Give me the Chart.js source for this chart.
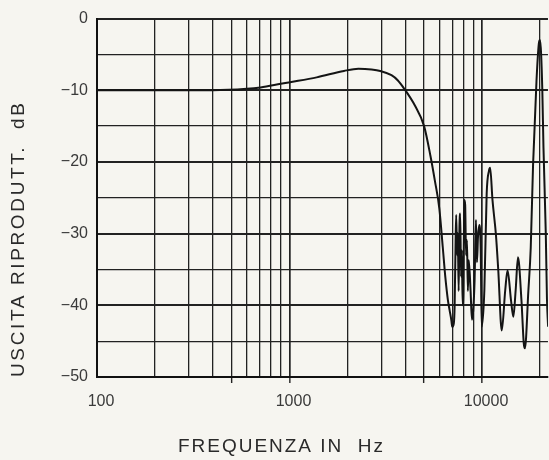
<!DOCTYPE html>
<html><head><meta charset="utf-8">
<script src="https://cdn.jsdelivr.net/npm/chart.js@4.4.1/dist/chart.umd.min.js"></script>
<style>
html,body{margin:0;padding:0;background:#f6f5f0;overflow:hidden}
#wrap{position:relative;width:549px;height:460px}
</style></head>
<body><div id="wrap"><canvas id="c" width="549" height="460"></canvas></div>
<script>
// ---- data ----
const frequenciesHz = [100,200,300,400,600,707,900,990,1384,1917,2280,2667,2960,3384,3645,3970,4472,5000,5390,5687,6000,6252,6448,6650,6787,6928,7000,7135,7203,7290,7342,7420,7483,7560,7627,7701,7780,7849,7930,8000,8086,8173,8260,8350,8440,8531,8716,8860,9000,9147,9297,9410,9525,9682,9843,9960,10280,10570,10867,11019,11329,11810,12142,12658,13195,13566,14142,14540,14948,15369,16021,16472,16702,17400,17900,18404,19185,19724,20000,20278,20562,20849,21434,21733,22036];
const levelsDb =     [-10,-10,-10,-10,-9.8,-9.6,-9.1,-8.9,-8.2,-7.3,-7.0,-7.1,-7.3,-7.9,-8.6,-9.9,-12.1,-15.0,-19.1,-22.6,-26.5,-31.9,-36.1,-39.3,-40.7,-42.1,-43.0,-42.5,-40.2,-31.0,-27.4,-33.0,-29.9,-38.0,-29.5,-27.2,-36.0,-32.3,-40.0,-38.5,-25.3,-26.0,-33.0,-30.9,-38.0,-33.7,-37.9,-42.0,-40.7,-36.5,-28.1,-34.0,-30.5,-28.8,-32.3,-43.0,-37.9,-24.4,-21.2,-20.8,-25.3,-30.2,-35.1,-43.5,-37.9,-35.1,-39.3,-41.6,-37.9,-33.3,-39.3,-45.3,-46.0,-38.0,-32.0,-20.5,-8.6,-3.5,-3.0,-5.0,-10.0,-18.0,-30.0,-39.0,-43.0];

const xGridValues = [100,200,300,400,500,600,700,800,900,1000,2000,3000,4000,5000,6000,7000,8000,9000,10000,20000];
const xLabeledValues = [100,1000,10000];
const xTickLabels = ['100','1000','10000'];
const xMarkedValues = [500,1000,5000,10000];
const yLabeledValues = [0,-10,-20,-30,-40,-50];
const yTickLabels = ['0','\u221210','\u221220','\u221230','\u221240','\u221250'];
const xTitle = 'FREQUENZA IN  Hz';
const yTitle = 'USCITA RIPRODUTT.  dB';

const points = frequenciesHz.map((f,i)=>({x:f,y:levelsDb[i]}));

const bgPlugin = {
  id:'bg',
  beforeDraw(chart){
    const c=chart.ctx; c.save(); c.fillStyle='#f6f5f0';
    c.fillRect(0,0,chart.width,chart.height); c.restore();
  }
};

function fitText(ctx, text, target){
  ctx.letterSpacing = '0px';
  const w = ctx.measureText(text).width;
  const ls = (target - w)/(text.length-1);
  ctx.letterSpacing = ls.toFixed(2)+'px';
}

const titlePlugin = {
  id:'titles',
  afterDraw(chart){
    const c = chart.ctx;
    c.save();
    c.fillStyle = '#2a2a2a';
    c.font = '19px "Liberation Sans", Arial, sans-serif';
    c.textBaseline = 'middle';
    c.textAlign = 'left';
    fitText(c, xTitle, 205);
    c.fillText(xTitle, 178, 447);
    c.translate(19, 240);
    c.rotate(-Math.PI/2);
    fitText(c, yTitle, 274);
    c.fillText(yTitle, -137, 0);
    c.restore();
  }
};

new Chart(document.getElementById('c'), {
  type:'line',
  data:{datasets:[{
    data: points,
    borderColor:'#141414',
    borderWidth:2,
    pointRadius:0,
    fill:false,
    cubicInterpolationMode:'monotone'
  }]},
  options:{
    responsive:false,
    animation:false,
    devicePixelRatio:1,
    layout:{padding:{left:0,top:18,right:0,bottom:0}},
    plugins:{legend:{display:false},tooltip:{enabled:false}},
    scales:{
      x:{
        type:'logarithmic',
        min:100, max:22000,
        afterBuildTicks:(s)=>{ s.ticks = xGridValues.map(v=>({value:v})); },
        afterFit:(s)=>{ s.height = 83; },
        ticks:{
          autoSkip:false, maxRotation:0, minRotation:0,
          padding:9, labelOffset:4,
          color:'#3a3a3a',
          font:{family:'"Liberation Sans", Arial, sans-serif', size:16},
          callback:(v)=>{ const i = xLabeledValues.indexOf(v); return i>=0 ? xTickLabels[i] : ''; }
        },
        grid:{
          color:'#222',
          lineWidth:(ctx)=> (ctx.tick && (ctx.tick.value===1000||ctx.tick.value===10000)) ? 1.7 : 1.3,
          drawTicks:true,
          tickLength:6,
          tickWidth:1.4,
          tickColor:(ctx)=> (ctx.tick && xMarkedValues.includes(ctx.tick.value)) ? '#222' : 'rgba(0,0,0,0)'
        },
        border:{display:true,color:'#111',width:2}
      },
      y:{
        type:'linear',
        min:-50, max:0,
        afterFit:(s)=>{ s.width = 97; },
        ticks:{
          stepSize:5, padding:9,
          color:'#3a3a3a',
          font:{family:'"Liberation Sans", Arial, sans-serif', size:16},
          callback:(v)=>{ const i = yLabeledValues.indexOf(v); return i>=0 ? yTickLabels[i] : ''; }
        },
        grid:{
          color:'#222',
          drawTicks:false,
          lineWidth:(ctx)=> (ctx.tick && ctx.tick.value % 10 === 0) ? 1.9 : 1.3
        },
        border:{display:true,color:'#111',width:2}
      }
    }
  },
  plugins:[bgPlugin,titlePlugin]
});
</script>
</body></html>
